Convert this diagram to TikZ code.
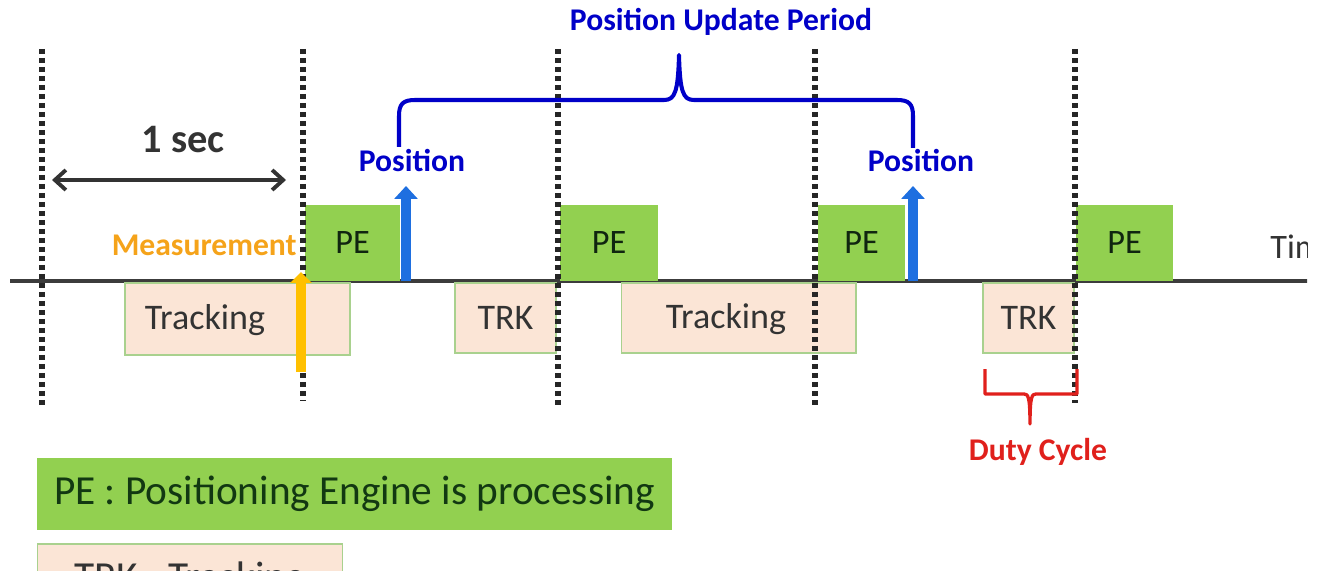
\documentclass[tikz,border=0pt]{standalone}
\usepackage{fontspec}
\setmainfont{Carlito}
\usetikzlibrary{arrows.meta}
\definecolor{pegreen}{HTML}{92D050}
\definecolor{trkfill}{HTML}{FBE5D6}
\definecolor{trkdraw}{HTML}{A9D18E}
\definecolor{posblue}{HTML}{0000C8}
\definecolor{arrblue}{HTML}{1E6FE0}
\definecolor{measorange}{HTML}{F5A31A}
\definecolor{arrorange}{HTML}{FFC000}
\definecolor{dutyred}{HTML}{E0201C}
\definecolor{darktxt}{HTML}{333333}
\definecolor{dotcol}{HTML}{262626}
\definecolor{lineg}{HTML}{3C3C3C}
\tikzset{
  pebox/.style={fill=pegreen, draw=none, inner sep=0pt, text=darktxt!80!green!40!black,
    font=\fontsize{19.5}{22}\selectfont},
  trkbox/.style={fill=trkfill, draw=trkdraw, line width=0.6pt, inner sep=0pt, text=darktxt,
    font=\fontsize{20.5}{23}\selectfont},
  trktext/.style={inner sep=0pt, text=darktxt, font=\fontsize{20.5}{23}\selectfont},
  dotline/.style={draw=dotcol, line width=0.11cm, dash pattern=on 0.1cm off 0.08cm},
  boldlbl/.style={font=\bfseries\fontsize{18}{21}\selectfont, inner sep=0pt},
  posarrow/.style={draw=arrblue, line width=0.2cm, -{Triangle[width=0.46cm,length=0.26cm]}},
  measarrow/.style={draw=arrorange, line width=0.2cm, -{Triangle[width=0.42cm,length=0.22cm]}},
  legendbox/.style={inner sep=0pt, font=\fontsize{23.5}{27}\selectfont, text=darktxt!70!green!50!black}
}
\begin{document}
\begin{tikzpicture}[x=0.02cm,y=-0.02cm]
\useasboundingbox (0,0) rectangle (1320,571);
\clip (0,0) rectangle (1307,571);

% timeline
\coordinate (tl0) at (10,281);
\coordinate (tl1) at (1320,281);
\draw[lineg, line width=2pt] (tl0) -- (tl1);
\node[anchor=west, text=darktxt, inner sep=0pt, font=\fontsize{19.5}{22}\selectfont] (time) at (1270,247) {Time};

% PE boxes
\node[pebox, minimum width=1.9cm, minimum height=1.52cm] (pe1) at (352.5,243) {PE};
\node[pebox, minimum width=1.96cm, minimum height=1.52cm] (pe2) at (609,243) {PE};
\node[pebox, minimum width=1.74cm, minimum height=1.52cm] (pe3) at (861.5,243) {PE};
\node[pebox, minimum width=1.94cm, minimum height=1.52cm] (pe4) at (1124.5,243) {PE};

% tracking boxes
\node[trkbox, minimum width=4.5cm, minimum height=1.44cm] (tr1) at (237.5,319) {};
\node[trktext] (tr1t) at (205,320) {Tracking};
\node[trkbox, minimum width=2.02cm, minimum height=1.4cm] (trk1) at (505.5,318) {TRK};
\node[trkbox, minimum width=4.7cm, minimum height=1.4cm] (tr2) at (738.5,318) {};
\node[trktext] (tr2t) at (726,319) {Tracking};
\node[trkbox, minimum width=1.82cm, minimum height=1.4cm] (trk2) at (1028.5,318) {TRK};

% dotted second markers
\foreach \i/\x/\b in {1/42/405, 2/303/400, 3/558/405, 4/815/405, 5/1075/403} {
  \coordinate (s\i t) at (\x,49);
  \coordinate (s\i b) at (\x,\b);
  \draw[dotline] (s\i t) -- (s\i b);
}

% 1 sec
\node[font=\bfseries\fontsize{23}{26}\selectfont, text=darktxt, inner sep=0pt] (onesec) at (183,140) {1 sec};
\coordinate (secL) at (52,180);
\coordinate (secR) at (286,180);
\draw[darktxt, line width=2.2pt, {Straight Barb[length=0.22cm,width=0.4cm]}-{Straight Barb[length=0.22cm,width=0.4cm]}] (secL) -- (secR);

% measurement
\node[boldlbl, anchor=east, text=measorange] (meas) at (297,245) {Measurement};
\coordinate (mb) at (301,372);
\coordinate (mt) at (301,272);
\draw[measarrow] (mb) -- (mt);

% position arrows
\coordinate (p1b) at (406,281);
\coordinate (p1t) at (406,186);
\coordinate (p2b) at (913,281);
\coordinate (p2t) at (913,186);
\draw[posarrow] (p1b) -- (p1t);
\draw[posarrow] (p2b) -- (p2t);
\node[boldlbl, text=posblue] (pos1) at (412,160) {Position};
\node[boldlbl, text=posblue] (pos2) at (921,160) {Position};

% position update period brace
\coordinate (bL) at (399,147);
\coordinate (bR) at (913,148);
\draw[posblue, line width=2.3pt, line join=round]
  (bL) -- (399,116) .. controls (399,104) and (403,100) .. (415,100)
  -- (664,100) .. controls (675,100) and (678,92) .. (679,55)
  .. controls (680,92) and (683,100) .. (694,100)
  -- (897,100) .. controls (909,100) and (913,104) .. (913,116) -- (bR);
\node[boldlbl, text=posblue] (pup) at (721,22) {Position Update Period};

% duty cycle brace
\coordinate (dL) at (985,369);
\coordinate (dR) at (1077,369);
\draw[dutyred, line width=1.9pt, line join=round]
  (dL) -- (985,394) -- (1024,394) .. controls (1028,394) and (1030,396) .. (1030,424)
  .. controls (1030,396) and (1032,394) .. (1036,394) -- (1077,394) -- (dR);
\node[boldlbl, text=dutyred] (duty) at (1038,452) {Duty Cycle};

% legend
\node[legendbox, fill=pegreen, minimum width=12.7cm, minimum height=1.44cm] (leg1) at (354.5,494) {PE : Positioning Engine is processing};
\node[legendbox, fill=trkfill, draw=trkdraw, line width=0.6pt, minimum width=6.12cm, minimum height=1.44cm, text=darktxt] (leg2) at (190,580) {TRK : Tracking};
\end{tikzpicture}
\end{document}
